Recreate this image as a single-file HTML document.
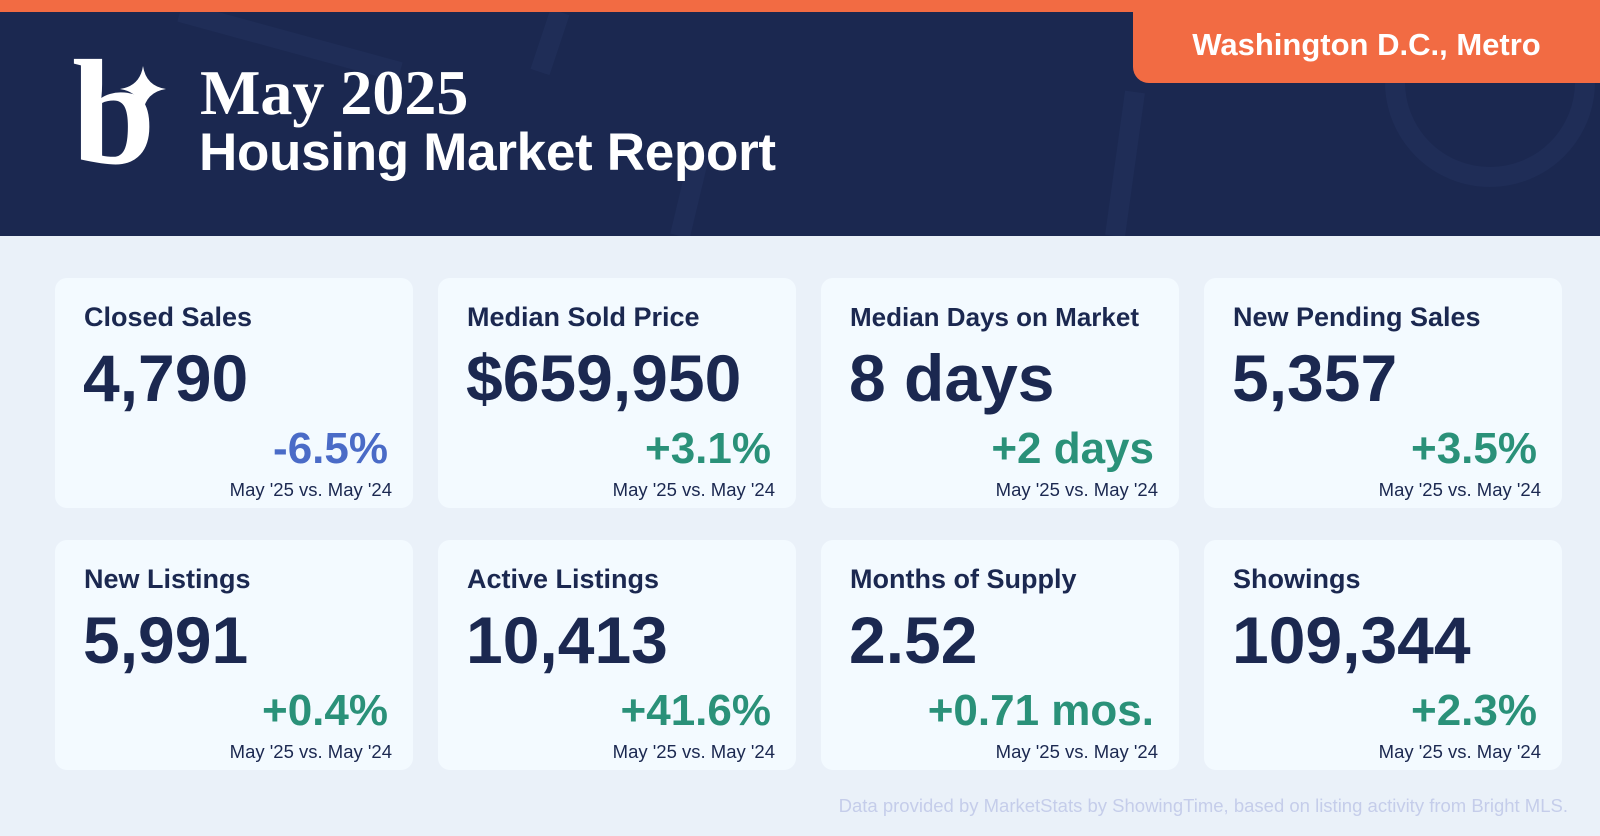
<!DOCTYPE html>
<html><head><meta charset="utf-8"><style>
*{margin:0;padding:0;box-sizing:border-box}
body{width:1600px;height:836px;background:#eaf1f9;font-family:"Liberation Sans",sans-serif;position:relative;overflow:hidden}
.top{position:absolute;left:0;top:0;width:1600px;height:12px;background:#f26b43}
.hdr{position:absolute;left:0;top:12px;width:1600px;height:224px;background:#1b2850;overflow:hidden}
.badge{position:absolute;left:1133px;top:0;width:467px;height:71px;background:#f26b43;border-bottom-left-radius:16px;color:#fff;font-weight:bold;font-size:31px;text-align:center;line-height:66px}
.t1{position:absolute;left:200px;top:56px;font-family:"Liberation Serif",serif;font-weight:bold;font-size:64px;color:#fff}
.t2{position:absolute;left:199px;top:122px;font-weight:bold;font-size:53px;color:#fff;letter-spacing:-0.3px}
.logo{position:absolute;left:72px;top:38px;font-family:"Liberation Serif",serif;font-weight:bold;font-size:150px;color:#fff;line-height:150px}
.card{position:absolute;width:358px;height:230px;background:#f3faff;border-radius:12px}
.card .h{position:absolute;left:29px;top:24px;font-size:27px;font-weight:bold;color:#1b2850}
.card .v{position:absolute;left:28px;top:62px;font-size:66px;font-weight:bold;color:#1b2850}
.card .c{position:absolute;right:25px;top:146px;font-size:44px;font-weight:bold;color:#2a9179}
.card .c.neg{color:#4a6bc7}
.card .s{position:absolute;right:21px;top:201px;font-size:18.5px;color:#1b2850}
.foot{position:absolute;right:32px;top:795px;font-size:18.5px;color:#c5cdea}
</style></head><body>
<div class="top"></div>
<div class="hdr">
<svg width="1600" height="224" style="position:absolute;left:0;top:0">
<g fill="none" stroke="#1f2d57" stroke-width="20">
<line x1="560" y1="0" x2="540" y2="60"/>
<line x1="700" y1="140" x2="680" y2="224"/>
<line x1="1135" y1="80" x2="1115" y2="224"/>
<circle cx="1490" cy="70" r="95"/>
<line x1="180" y1="0" x2="400" y2="60"/>
</g></svg>
<div class="badge">Washington D.C., Metro</div>
</div>
<div class="logo">b</div>
<svg style="position:absolute;left:120px;top:66px" width="46" height="46" viewBox="0 0 46 46"><path d="M23 0 Q26 20 46 23 Q26 26 23 46 Q20 26 0 23 Q20 20 23 0Z" fill="#fff"/></svg>
<div class="t1">May 2025</div>
<div class="t2">Housing Market Report</div>

<div class="card" style="left:55px;top:278px"><div class="h">Closed Sales</div><div class="v">4,790</div><div class="c neg">-6.5%</div><div class="s">May '25 vs. May '24</div></div>
<div class="card" style="left:438px;top:278px"><div class="h">Median Sold Price</div><div class="v">$659,950</div><div class="c">+3.1%</div><div class="s">May '25 vs. May '24</div></div>
<div class="card" style="left:821px;top:278px"><div class="h" style="font-size:26px">Median Days on Market</div><div class="v">8 days</div><div class="c">+2 days</div><div class="s">May '25 vs. May '24</div></div>
<div class="card" style="left:1204px;top:278px"><div class="h">New Pending Sales</div><div class="v">5,357</div><div class="c">+3.5%</div><div class="s">May '25 vs. May '24</div></div>

<div class="card" style="left:55px;top:540px"><div class="h">New Listings</div><div class="v">5,991</div><div class="c">+0.4%</div><div class="s">May '25 vs. May '24</div></div>
<div class="card" style="left:438px;top:540px"><div class="h">Active Listings</div><div class="v">10,413</div><div class="c">+41.6%</div><div class="s">May '25 vs. May '24</div></div>
<div class="card" style="left:821px;top:540px"><div class="h">Months of Supply</div><div class="v">2.52</div><div class="c">+0.71 mos.</div><div class="s">May '25 vs. May '24</div></div>
<div class="card" style="left:1204px;top:540px"><div class="h">Showings</div><div class="v">109,344</div><div class="c">+2.3%</div><div class="s">May '25 vs. May '24</div></div>

<div class="foot">Data provided by MarketStats by ShowingTime, based on listing activity from Bright MLS.</div>
</body></html>
